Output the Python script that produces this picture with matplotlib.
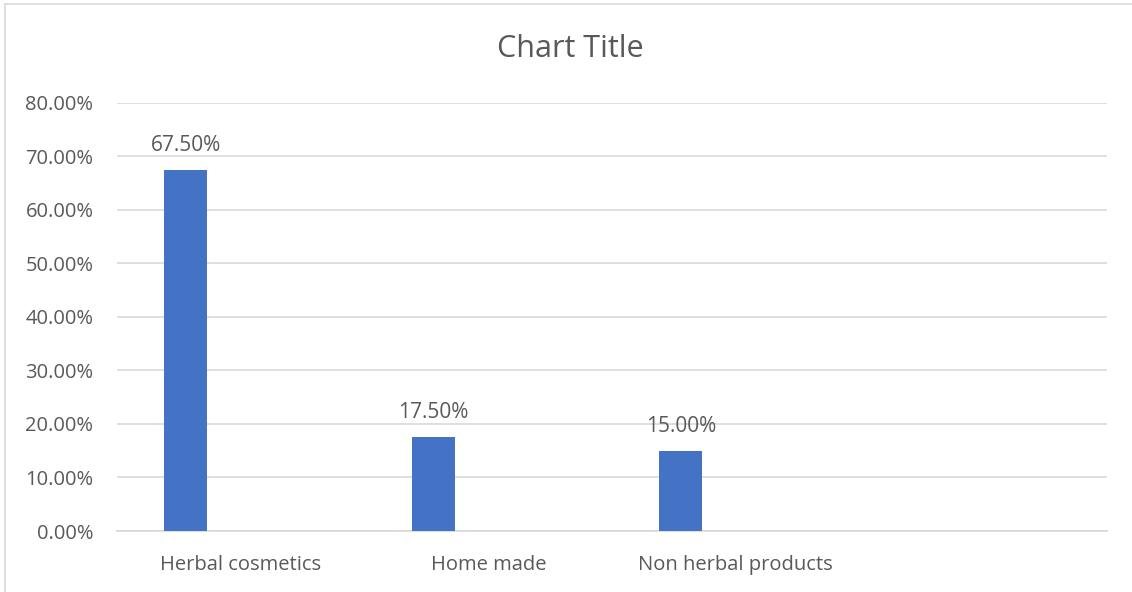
import numpy as np
import matplotlib.pyplot as plt
from matplotlib.lines import Line2D

# Survey shares by product type (last slot is an empty category)
categories = ['Herbal cosmetics', 'Home made', 'Non herbal products', '']
shares = [0.675, 0.175, 0.15, np.nan]

plt.rcParams['font.family'] = ['Open Sans', 'DejaVu Sans']
text_color = '#595959'
grid_color = '#d9d9d9'
bar_color = '#4472c4'

fig = plt.figure(figsize=(11.32, 5.92), dpi=100)
ax = fig.add_axes([0.1034, 0.103, 0.8746, 0.7235])

x = np.arange(len(categories))
bar_width = 0.174
offset = -0.222
bars = ax.bar(x + offset, shares, width=bar_width, color=bar_color, zorder=3)

# Value labels above each bar
for xi, v in zip(x, shares):
    if np.isnan(v):
        continue
    ax.annotate(f'{v * 100:.2f}%', (xi + offset, v), xytext=(0, 10),
                textcoords='offset points', ha='center', va='bottom',
                fontsize=15, color=text_color)

ax.set_xlim(-0.5, len(categories) - 0.5)
ax.set_ylim(0, 0.8)
ax.set_yticks(np.arange(0, 0.81, 0.1))
ax.set_yticklabels([f'{t * 100:.2f}%' for t in np.arange(0, 0.81, 0.1)])
ax.set_xticks(x)
ax.set_xticklabels(categories)

ax.grid(axis='y', color=grid_color, linewidth=1.2, zorder=0)
for side in ['top', 'right', 'left']:
    ax.spines[side].set_visible(False)
ax.spines['bottom'].set_color(grid_color)
ax.spines['bottom'].set_linewidth(1.2)
ax.tick_params(axis='both', length=0, labelsize=14.5, labelcolor=text_color)
ax.tick_params(axis='y', pad=17)
ax.tick_params(axis='x', pad=17)

fig.text(0.5035, 0.917, 'Chart Title', ha='center', va='center',
         fontsize=22, color=text_color)

# Chart-area border, only the top and left edges fall inside the image
fig.add_artist(Line2D([0.0045, 0.0045], [0, 0.993], transform=fig.transFigure,
                      color=grid_color, linewidth=1.2))
fig.add_artist(Line2D([0.0045, 1], [0.993, 0.993], transform=fig.transFigure,
                      color=grid_color, linewidth=1.2))

fig.savefig('out.png', dpi=100)
